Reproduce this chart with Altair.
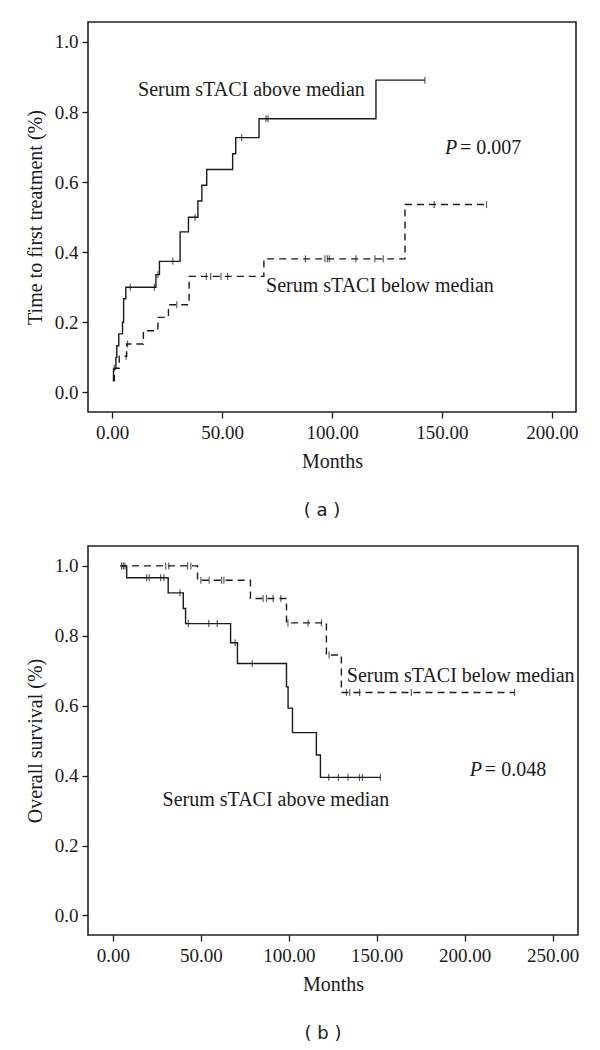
import altair as alt
import pandas as pd

# ---------------- Panel (a): time to first treatment ----------------
a_above_t = [0.4, 0.6, 1.7, 2.1, 3.0, 4.7, 5.2, 6.2, 19.9, 21.5, 30.9, 34.7, 39.0, 40.8, 43.0, 54.8, 56.2, 66.8, 120.0, 142.3]
a_above_v = [0.033, 0.067, 0.100, 0.133, 0.167, 0.200, 0.267, 0.300, 0.336, 0.374, 0.458, 0.500, 0.546, 0.591, 0.636, 0.681, 0.727, 0.781, 0.891, 0.891]
a_above_cens_t = [8.2, 19.2, 20.8, 27.6, 37.7, 58.9, 70.0, 70.9, 142.3]
a_above_cens_v = [0.300, 0.300, 0.336, 0.374, 0.500, 0.727, 0.781, 0.781, 0.891]

a_below_t = [0.3, 1.0, 3.2, 6.6, 14.2, 20.8, 25.6, 35.0, 69.0, 133.2, 170.3]
a_below_v = [0.034, 0.069, 0.103, 0.138, 0.176, 0.214, 0.250, 0.331, 0.381, 0.536, 0.536]
a_below_cens_t = [0.9, 6.4, 7.0, 29.4, 42.8, 44.8, 49.5, 52.5, 87.9, 96.8, 97.9, 98.8, 110.9, 119.5, 123.3, 146.5, 170.3]
a_below_cens_v = [0.069, 0.103, 0.138, 0.250, 0.331, 0.331, 0.331, 0.331, 0.381, 0.381, 0.381, 0.381, 0.381, 0.381, 0.381, 0.536, 0.536]

a_x_ticks = [0, 50, 100, 150, 200]
a_labels = ["Serum sTACI above median", "Serum sTACI below median"]
a_label_t = [11.8, 70.0]
a_label_v = [0.863, 0.303]
a_p_t, a_p_v, a_p_text = 151.4, 0.698, "= 0.007"

# ---------------- Panel (b): overall survival ----------------
b_above_t = [4.9, 7.8, 31.4, 40.0, 41.3, 66.9, 70.8, 98.7, 99.6, 102.1, 115.7, 118.0, 152.1]
b_above_v = [1.000, 0.966, 0.923, 0.878, 0.835, 0.780, 0.721, 0.654, 0.593, 0.523, 0.459, 0.395, 0.395]
b_above_cens_t = [5.9, 19.1, 20.6, 27.1, 29.0, 38.1, 42.8, 54.5, 59.3, 69.5, 79.2, 122.7, 128.2, 133.7, 140.2, 141.9, 152.1]
b_above_cens_v = [1.000, 0.966, 0.966, 0.966, 0.966, 0.923, 0.835, 0.835, 0.835, 0.780, 0.721, 0.395, 0.395, 0.395, 0.395, 0.395, 0.395]

b_below_t = [4.0, 48.1, 78.2, 98.7, 121.4, 129.9, 228.4]
b_below_v = [1.000, 0.959, 0.907, 0.837, 0.745, 0.638, 0.638]
b_below_cens_t = [4.9, 6.8, 30.0, 31.8, 42.4, 44.3, 50.0, 54.7, 61.8, 63.1, 85.4, 87.3, 91.1, 95.5, 99.5, 111.0, 118.6, 122.9, 132.8, 134.7, 140.3, 169.7, 228.4]
b_below_cens_v = [1.000, 1.000, 1.000, 1.000, 1.000, 1.000, 0.959, 0.959, 0.959, 0.959, 0.907, 0.907, 0.907, 0.907, 0.837, 0.837, 0.837, 0.745, 0.638, 0.638, 0.638, 0.638, 0.638]

b_x_ticks = [0, 50, 100, 150, 200, 250]
b_labels = ["Serum sTACI above median", "Serum sTACI below median"]
b_label_t = [28.2, 133.0]
b_label_v = [0.329, 0.685]
b_p_t, b_p_v, b_p_text = 203.0, 0.416, "= 0.048"

y_ticks = [0.0, 0.2, 0.4, 0.6, 0.8, 1.0]

SERIF = "Liberation Serif"
INK = "#1a1a1a"


def panel(above_t, above_v, ac_t, ac_v, below_t, below_v, bc_t, bc_v,
          x_dom, x_ticks, y_title, labels, lab_t, lab_v, p_t, p_v, p_text,
          caption, width, height):
    x_axis = alt.Axis(values=x_ticks, format=".2f", title="Months", grid=False,
                      domain=False, tickSize=6, tickColor=INK, tickWidth=1.3,
                      labelFont=SERIF, labelFontSize=19, labelColor=INK,
                      labelPadding=5, labelFlush=False,
                      titleFont=SERIF, titleFontSize=20, titleFontWeight="normal",
                      titleColor=INK, titlePadding=9)
    y_axis = alt.Axis(values=y_ticks, format=".1f", title=y_title, grid=False,
                      domain=False, tickSize=6, tickColor=INK, tickWidth=1.3,
                      labelFont=SERIF, labelFontSize=19, labelColor=INK,
                      labelPadding=4, labelFlush=False,
                      titleFont=SERIF, titleFontSize=20, titleFontWeight="normal",
                      titleColor=INK, titlePadding=9)
    xs = alt.Scale(domain=x_dom, nice=False, zero=False)
    ys = alt.Scale(domain=[-0.056, 1.057], nice=False, zero=False)

    df_above = pd.DataFrame({"t": above_t, "v": above_v})
    df_below = pd.DataFrame({"t": below_t, "v": below_v})
    df_ac = pd.DataFrame({"t": ac_t, "v": ac_v})
    df_bc = pd.DataFrame({"t": bc_t, "v": bc_v})
    df_lab = pd.DataFrame({"t": lab_t, "v": lab_v, "label": labels})
    df_p = pd.DataFrame({"t": [p_t], "v": [p_v], "p": ["P"], "rest": [p_text]})

    base_x = alt.X("t:Q", scale=xs, axis=x_axis)
    base_y = alt.Y("v:Q", scale=ys, axis=y_axis)

    line_above = alt.Chart(df_above).mark_line(
        interpolate="step-after", color=INK, strokeWidth=1.4
    ).encode(x=base_x, y=base_y)
    line_below = alt.Chart(df_below).mark_line(
        interpolate="step-after", color=INK, strokeWidth=1.4, strokeDash=[7, 5]
    ).encode(x="t:Q", y="v:Q")
    cens_above = alt.Chart(df_ac).mark_tick(
        orient="vertical", size=7, thickness=1.2, color=INK
    ).encode(x="t:Q", y="v:Q")
    cens_below = alt.Chart(df_bc).mark_tick(
        orient="vertical", size=7, thickness=1.2, color=INK
    ).encode(x="t:Q", y="v:Q")
    txt = alt.Chart(df_lab).mark_text(
        align="left", baseline="middle", font=SERIF, fontSize=20, color=INK
    ).encode(x="t:Q", y="v:Q", text="label:N")
    p_it = alt.Chart(df_p).mark_text(
        align="left", baseline="middle", font=SERIF, fontSize=20,
        fontStyle="italic", color=INK
    ).encode(x="t:Q", y="v:Q", text="p:N")
    p_rest = alt.Chart(df_p).mark_text(
        align="left", baseline="middle", font=SERIF, fontSize=20, color=INK, dx=15
    ).encode(x="t:Q", y="v:Q", text="rest:N")

    return alt.layer(line_above, line_below, cens_above, cens_below, txt, p_it, p_rest).properties(
        width=width, height=height,
        title=alt.TitleParams(caption, orient="bottom", font="DejaVu Sans",
                              fontSize=18, fontWeight="normal", color=INK,
                              offset=31, frame="group", dx=-10),
    )


chart_a = panel(a_above_t, a_above_v, a_above_cens_t, a_above_cens_v,
                a_below_t, a_below_v, a_below_cens_t, a_below_cens_v,
                [-11.0, 211.0], a_x_ticks, "Time to first treatment (%)",
                a_labels, a_label_t, a_label_v, a_p_t, a_p_v, a_p_text,
                "( a )", 488, 390)
chart_b = panel(b_above_t, b_above_v, b_above_cens_t, b_above_cens_v,
                b_below_t, b_below_v, b_below_cens_t, b_below_cens_v,
                [-14.2, 264.5], b_x_ticks, "Overall survival (%)",
                b_labels, b_label_t, b_label_v, b_p_t, b_p_v, b_p_text,
                "( b )", 490, 389)

chart = alt.vconcat(chart_a, chart_b, spacing=24).properties(
    padding={"left": 16, "top": 13, "right": 5, "bottom": 0},
    background="white",
).configure_view(stroke="#222222", strokeWidth=1.6)

chart.save("out.html", embed_options={"renderer": "svg", "actions": False})
